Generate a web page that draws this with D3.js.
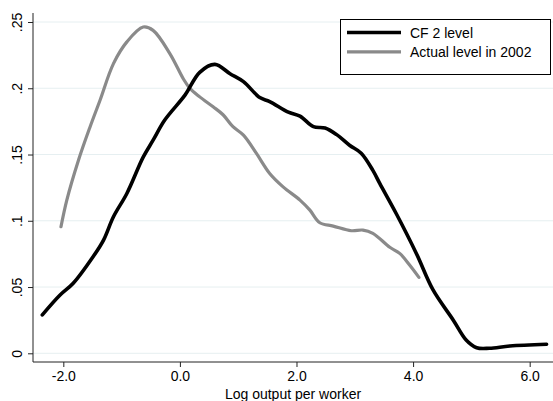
<!DOCTYPE html>
<html>
<head>
<meta charset="utf-8">
<script src="https://cdn.jsdelivr.net/npm/d3@7"></script>
<style>
  html, body { margin: 0; padding: 0; background: #fff; }
  svg { display: block; font-family: "Liberation Sans", Arial, Helvetica, sans-serif; }
</style>
</head>
<body>
<svg id="chart" width="553" height="401"></svg>
<script>
// Kernel density of log output per worker
const cfX = [-2.36, -2.06, -1.83, -1.49, -1.31, -1.14, -0.91, -0.63, -0.46, -0.26, 0.09, 0.34, 0.6, 0.86, 1.09, 1.37, 1.54, 1.86, 2.06, 2.29, 2.49, 2.69, 2.91, 3.11, 3.31, 3.43, 3.71, 4.06, 4.34, 4.69, 4.91, 5.09, 5.31, 5.66, 6.29];
const cfY = [0.029, 0.0438, 0.0528, 0.0728, 0.0854, 0.103, 0.1206, 0.148, 0.1608, 0.176, 0.195, 0.212, 0.218, 0.211, 0.205, 0.193, 0.190, 0.182, 0.179, 0.171, 0.170, 0.165, 0.157, 0.151, 0.138, 0.128, 0.1055, 0.075, 0.048, 0.025, 0.010, 0.0042, 0.0038, 0.0055, 0.0068];

const actX = [-2.04, -1.94, -1.74, -1.54, -1.37, -1.14, -0.91, -0.63, -0.46, -0.17, 0.06, 0.17, 0.34, 0.57, 0.74, 0.91, 1.09, 1.31, 1.54, 1.77, 2.06, 2.23, 2.40, 2.63, 2.94, 3.14, 3.31, 3.60, 3.77, 3.94, 4.10];
const actY = [0.0955, 0.1156, 0.1457, 0.171, 0.191, 0.2186, 0.235, 0.2462, 0.2437, 0.226, 0.207, 0.200, 0.1935, 0.186, 0.180, 0.171, 0.1646, 0.151, 0.1357, 0.1256, 0.1156, 0.108, 0.0985, 0.096, 0.0925, 0.093, 0.0905, 0.080, 0.0754, 0.0666, 0.0573];

const xTicks = [-2, 0, 2, 4, 6];
const xTickLabels = ["-2.0", "0.0", "2.0", "4.0", "6.0"];
const yTicks = [0, 0.05, 0.1, 0.15, 0.2, 0.25];
const yTickLabels = ["0", ".05", ".1", ".15", ".2", ".25"];
const seriesNames = ["CF 2 level", "Actual level in 2002"];
const xTitle = "Log output per worker";

const svg = d3.select("#chart");
const plotLeft = 33, plotRight = 553, plotTop = 13, plotBottom = 362;
const fontSize = 14;

const x = d3.scaleLinear().domain([-2.52, 6.4]).range([plotLeft, plotRight]);
const y = d3.scaleLinear().domain([0, 0.25]).range([353.3, 22]);

// horizontal grid
svg.append("g").selectAll("line").data(yTicks).join("line")
  .attr("x1", plotLeft).attr("x2", plotRight)
  .attr("y1", d => y(d)).attr("y2", d => y(d))
  .attr("stroke", "#e6eff1").attr("stroke-width", 1);

// axes
const yAxis = d3.axisLeft(y).tickValues(yTicks)
  .tickFormat((d, i) => yTickLabels[i]).tickSize(5).tickSizeOuter(0);
const gy = svg.append("g").attr("transform", `translate(${plotLeft},0)`).call(yAxis);
gy.select(".domain").remove();
gy.selectAll(".tick line").attr("stroke", "#222");
gy.selectAll(".tick text")
  .attr("font-size", fontSize).attr("fill", "#000")
  .attr("transform", "rotate(-90)")
  .attr("x", 0).attr("y", -11)
  .attr("dy", 0)
  .attr("text-anchor", "middle");

const xAxis = d3.axisBottom(x).tickValues(xTicks)
  .tickFormat((d, i) => xTickLabels[i]).tickSize(5).tickSizeOuter(0);
const gx = svg.append("g").attr("transform", `translate(0,${plotBottom})`).call(xAxis);
gx.select(".domain").remove();
gx.selectAll(".tick line").attr("stroke", "#222");
gx.selectAll(".tick text").attr("font-size", fontSize).attr("fill", "#000").attr("y", 9).attr("dy", "0.71em");

svg.append("line").attr("x1", plotLeft).attr("x2", plotLeft).attr("y1", plotTop).attr("y2", plotBottom)
  .attr("stroke", "#222").attr("stroke-width", 1);
svg.append("line").attr("x1", plotLeft).attr("x2", plotRight).attr("y1", plotBottom).attr("y2", plotBottom)
  .attr("stroke", "#222").attr("stroke-width", 1);

svg.append("text").attr("x", (plotLeft + plotRight) / 2).attr("y", 398.5)
  .attr("text-anchor", "middle").attr("font-size", fontSize).attr("fill", "#000").text(xTitle);

// density lines
const line = d3.line().x(d => x(d[0])).y(d => y(d[1])).curve(d3.curveCatmullRom.alpha(0.5));
const actPts = actX.map((v, i) => [v, actY[i]]);
const cfPts = cfX.map((v, i) => [v, cfY[i]]);

svg.append("path").attr("d", line(actPts)).attr("fill", "none")
  .attr("stroke", "#8a8a8a").attr("stroke-width", 3.2).attr("stroke-linecap", "round").attr("stroke-linejoin", "round");
svg.append("path").attr("d", line(cfPts)).attr("fill", "none")
  .attr("stroke", "#000").attr("stroke-width", 3.6).attr("stroke-linecap", "round").attr("stroke-linejoin", "round");

// legend
const lg = svg.append("g");
lg.append("rect").attr("x", 340.5).attr("y", 19.5).attr("width", 210).attr("height", 55)
  .attr("fill", "#fff").attr("stroke", "#000").attr("stroke-width", 1);
const legendColors = ["#000", "#8a8a8a"];
const legendWidths = [3.6, 3.2];
seriesNames.forEach((name, i) => {
  const ly = 32.5 + i * 19.3;
  lg.append("line").attr("x1", 347).attr("x2", 401).attr("y1", ly).attr("y2", ly)
    .attr("stroke", legendColors[i]).attr("stroke-width", legendWidths[i]);
  lg.append("text").attr("x", 410).attr("y", ly + 5).attr("font-size", fontSize).attr("fill", "#000").text(name);
});
</script>
</body>
</html>
